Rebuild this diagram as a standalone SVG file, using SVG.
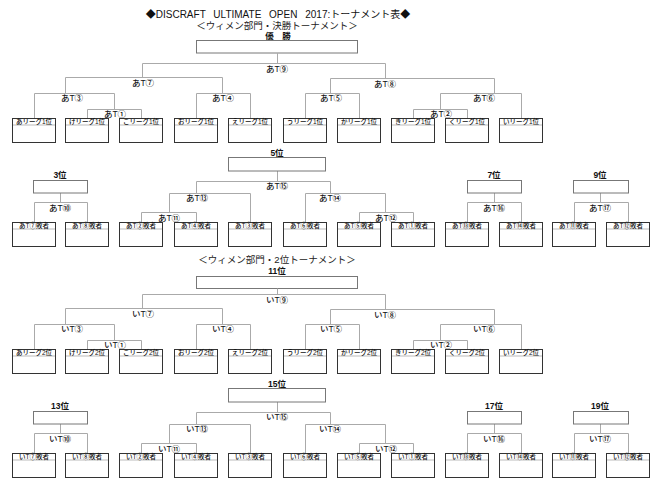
<svg xmlns="http://www.w3.org/2000/svg" xmlns:xlink="http://www.w3.org/1999/xlink" width="660" height="490" viewBox="0 0 660 490">
<style>
text{font-family:"Liberation Sans","Noto Sans CJK JP",sans-serif;fill:#111;text-anchor:middle}
.ti{font-size:10px}
.st{font-size:9.5px;fill:#222}
.pl{font-size:8.5px;font-weight:bold}
.mt{font-size:8.5px;font-weight:500}
.lf{font-size:6.5px;font-weight:500}
.cn{fill:none;stroke:#aaa;stroke-width:1}
.lb{fill:#fff;stroke:#333;stroke-width:1}
.lh{stroke:#bbb;stroke-width:1}
.pb{fill:#fff;stroke:#777;stroke-width:1}
</style>
<defs>
<g id="leaf"><rect x="0.5" y="0.5" width="43" height="24" class="lb"/><line x1="1" y1="7" x2="43" y2="7" class="lh"/></g>
</defs>
<rect width="660" height="490" fill="#fff"/>

<!-- Section 1 headings -->
<text class="ti" x="278" y="18" word-spacing="5">◆DISCRAFT ULTIMATE OPEN 2017:トーナメント表◆</text>
<text class="st" x="277" y="28.5">＜ウィメン部門・決勝トーナメント＞</text>
<g id="s1-champion"><text class="pl" x="278" y="38.5">優　勝</text><rect x="196.5" y="40.5" width="161" height="12.5" class="pb"/></g>

<!-- Section 2 headings -->
<text class="st" x="277" y="263">＜ウィメン部門・2位トーナメント＞</text>
<g id="s2-11th"><text class="pl" x="277" y="273.5">11位</text><rect x="196.5" y="276.5" width="161" height="12" class="pb"/></g>

<!-- Section 1 -->
<g id="section1">
<g id="s1-connectors">
<path class="cn" d="M277.5 53V63.5M142.5 77V63.5H385.5V78M65.5 93V77.5H222.5V93M34.5 118V93.5H114.5V109M87.5 118V109.5H141.5V118M196.5 118V93.5H250.5V118M330.5 93V78.5H494.5V93M305.5 118V93.5H359.5V118M440.5 109V93.5H521.5V118M413.5 118V109.5H467.5V118"/>
<path class="cn" d="M277.5 171V181.5M196.5 193V181.5H330.5V193M169.5 212V193.5H250.5V222M141.5 222V212.5H196.5V222M305.5 222V193.5H385.5V212M359.5 222V212.5H413.5V222M60.5 193V202.5M34.5 222V202.5H87.5V222M494.5 193V202.5M467.5 222V202.5H521.5V222M600.5 193V202.5M574.5 222V202.5H628.5V222"/>
</g>
<g id="s1-m9"><text class="mt" x="277" y="71.5">あT⑨</text></g>
<g id="s1-m7"><text class="mt" x="143" y="86">あT⑦</text></g>
<g id="s1-m8"><text class="mt" x="385" y="86.5">あT⑧</text></g>
<g id="s1-m3"><text class="mt" x="72" y="100.5">あT③</text></g>
<g id="s1-m4"><text class="mt" x="223" y="100.5">あT④</text></g>
<g id="s1-m5"><text class="mt" x="331" y="100.5">あT⑤</text></g>
<g id="s1-m6"><text class="mt" x="484" y="101">あT⑥</text></g>
<g id="s1-m1"><text class="mt" x="115" y="116.5">あT①</text></g>
<g id="s1-m2"><text class="mt" x="441" y="116.5">あT②</text></g>
<g id="s1-t1"><use xlink:href="#leaf" x="12" y="118"/><text class="lf" x="34" y="124.3">あリーグ1位</text></g>
<g id="s1-t2"><use xlink:href="#leaf" x="65" y="118"/><text class="lf" x="87" y="124.3">けリーグ1位</text></g>
<g id="s1-t3"><use xlink:href="#leaf" x="119" y="118"/><text class="lf" x="141" y="124.3">こリーグ1位</text></g>
<g id="s1-t4"><use xlink:href="#leaf" x="174" y="118"/><text class="lf" x="196" y="124.3">おリーグ1位</text></g>
<g id="s1-t5"><use xlink:href="#leaf" x="228" y="118"/><text class="lf" x="250" y="124.3">えリーグ1位</text></g>
<g id="s1-t6"><use xlink:href="#leaf" x="283" y="118"/><text class="lf" x="305" y="124.3">うリーグ1位</text></g>
<g id="s1-t7"><use xlink:href="#leaf" x="337" y="118"/><text class="lf" x="359" y="124.3">かリーグ1位</text></g>
<g id="s1-t8"><use xlink:href="#leaf" x="391" y="118"/><text class="lf" x="413" y="124.3">きリーグ1位</text></g>
<g id="s1-t9"><use xlink:href="#leaf" x="445" y="118"/><text class="lf" x="467" y="124.3">くリーグ1位</text></g>
<g id="s1-t10"><use xlink:href="#leaf" x="499" y="118"/><text class="lf" x="521" y="124.3">いリーグ1位</text></g>

<g id="s1-5th"><text class="pl" x="277" y="156">5位</text><rect x="228.5" y="157.5" width="97" height="13.5" class="pb"/></g>
<g id="s1-3rd"><text class="pl" x="60" y="178">3位</text><rect x="33.5" y="180.5" width="54" height="12.5" class="pb"/></g>
<g id="s1-7th"><text class="pl" x="494" y="178">7位</text><rect x="467.5" y="180.5" width="54" height="12.5" class="pb"/></g>
<g id="s1-9th"><text class="pl" x="600" y="178">9位</text><rect x="573.5" y="180.5" width="55" height="12.5" class="pb"/></g>
<g id="s1-m15"><text class="mt" x="277" y="189">あT⑮</text></g>
<g id="s1-m13"><text class="mt" x="197" y="201">あT⑬</text></g>
<g id="s1-m14"><text class="mt" x="330" y="201">あT⑭</text></g>
<g id="s1-m11"><text class="mt" x="169" y="220.5">あT⑪</text></g>
<g id="s1-m12"><text class="mt" x="386" y="220.5">あT⑫</text></g>
<g id="s1-m10"><text class="mt" x="60" y="210.5">あT⑩</text></g>
<g id="s1-m16"><text class="mt" x="494" y="210.5">あT⑯</text></g>
<g id="s1-m17"><text class="mt" x="600" y="210.5">あT⑰</text></g>
<g id="s1-l1"><use xlink:href="#leaf" x="12" y="222"/><text class="lf" x="34" y="228.3">あT⑦敗者</text></g>
<g id="s1-l2"><use xlink:href="#leaf" x="65" y="222"/><text class="lf" x="87" y="228.3">あT⑧敗者</text></g>
<g id="s1-l3"><use xlink:href="#leaf" x="119" y="222"/><text class="lf" x="141" y="228.3">あT②敗者</text></g>
<g id="s1-l4"><use xlink:href="#leaf" x="174" y="222"/><text class="lf" x="196" y="228.3">あT④敗者</text></g>
<g id="s1-l5"><use xlink:href="#leaf" x="228" y="222"/><text class="lf" x="250" y="228.3">あT③敗者</text></g>
<g id="s1-l6"><use xlink:href="#leaf" x="283" y="222"/><text class="lf" x="305" y="228.3">あT⑥敗者</text></g>
<g id="s1-l7"><use xlink:href="#leaf" x="337" y="222"/><text class="lf" x="359" y="228.3">あT⑤敗者</text></g>
<g id="s1-l8"><use xlink:href="#leaf" x="391" y="222"/><text class="lf" x="413" y="228.3">あT①敗者</text></g>
<g id="s1-l9"><use xlink:href="#leaf" x="445" y="222"/><text class="lf" x="467" y="228.3">あT⑬敗者</text></g>
<g id="s1-l10"><use xlink:href="#leaf" x="499" y="222"/><text class="lf" x="521" y="228.3">あT⑭敗者</text></g>
<g id="s1-l11"><use xlink:href="#leaf" x="552" y="222"/><text class="lf" x="574" y="228.3">あT⑪敗者</text></g>
<g id="s1-l12"><use xlink:href="#leaf" x="606" y="222"/><text class="lf" x="628" y="228.3">あT⑫敗者</text></g>
</g>

<!-- Section 2 -->
<g id="section2" transform="translate(0,231)">
<g id="s2-connectors">
<path class="cn" d="M277.5 57.5V63.5M142.5 77V63.5H385.5V78M65.5 93V77.5H222.5V93M34.5 118V93.5H114.5V109M87.5 118V109.5H141.5V118M196.5 118V93.5H250.5V118M330.5 93V78.5H494.5V93M305.5 118V93.5H359.5V118M440.5 109V93.5H521.5V118M413.5 118V109.5H467.5V118"/>
<path class="cn" d="M277.5 171V181.5M196.5 193V181.5H330.5V193M169.5 212V193.5H250.5V222M141.5 222V212.5H196.5V222M305.5 222V193.5H385.5V212M359.5 222V212.5H413.5V222M60.5 193V202.5M34.5 222V202.5H87.5V222M494.5 193V202.5M467.5 222V202.5H521.5V222M600.5 193V202.5M574.5 222V202.5H628.5V222"/>
</g>
<g id="s2-m9"><text class="mt" x="277" y="71.5">いT⑨</text></g>
<g id="s2-m7"><text class="mt" x="143" y="86">いT⑦</text></g>
<g id="s2-m8"><text class="mt" x="385" y="86.5">いT⑧</text></g>
<g id="s2-m3"><text class="mt" x="72" y="100.5">いT③</text></g>
<g id="s2-m4"><text class="mt" x="223" y="100.5">いT④</text></g>
<g id="s2-m5"><text class="mt" x="331" y="100.5">いT⑤</text></g>
<g id="s2-m6"><text class="mt" x="484" y="101">いT⑥</text></g>
<g id="s2-m1"><text class="mt" x="115" y="116.5">いT①</text></g>
<g id="s2-m2"><text class="mt" x="441" y="116.5">いT②</text></g>
<g id="s2-t1"><use xlink:href="#leaf" x="12" y="118"/><text class="lf" x="34" y="124.3">あリーグ2位</text></g>
<g id="s2-t2"><use xlink:href="#leaf" x="65" y="118"/><text class="lf" x="87" y="124.3">けリーグ2位</text></g>
<g id="s2-t3"><use xlink:href="#leaf" x="119" y="118"/><text class="lf" x="141" y="124.3">こリーグ2位</text></g>
<g id="s2-t4"><use xlink:href="#leaf" x="174" y="118"/><text class="lf" x="196" y="124.3">おリーグ2位</text></g>
<g id="s2-t5"><use xlink:href="#leaf" x="228" y="118"/><text class="lf" x="250" y="124.3">えリーグ2位</text></g>
<g id="s2-t6"><use xlink:href="#leaf" x="283" y="118"/><text class="lf" x="305" y="124.3">うリーグ2位</text></g>
<g id="s2-t7"><use xlink:href="#leaf" x="337" y="118"/><text class="lf" x="359" y="124.3">かリーグ2位</text></g>
<g id="s2-t8"><use xlink:href="#leaf" x="391" y="118"/><text class="lf" x="413" y="124.3">きリーグ2位</text></g>
<g id="s2-t9"><use xlink:href="#leaf" x="445" y="118"/><text class="lf" x="467" y="124.3">くリーグ2位</text></g>
<g id="s2-t10"><use xlink:href="#leaf" x="499" y="118"/><text class="lf" x="521" y="124.3">いリーグ2位</text></g>

<g id="s2-15th"><text class="pl" x="277" y="156">15位</text><rect x="228.5" y="157.5" width="97" height="13.5" class="pb"/></g>
<g id="s2-13th"><text class="pl" x="60" y="178">13位</text><rect x="33.5" y="180.5" width="54" height="12.5" class="pb"/></g>
<g id="s2-17th"><text class="pl" x="494" y="178">17位</text><rect x="467.5" y="180.5" width="54" height="12.5" class="pb"/></g>
<g id="s2-19th"><text class="pl" x="600" y="178">19位</text><rect x="573.5" y="180.5" width="55" height="12.5" class="pb"/></g>
<g id="s2-m15"><text class="mt" x="277" y="189">いT⑮</text></g>
<g id="s2-m13"><text class="mt" x="197" y="201">いT⑬</text></g>
<g id="s2-m14"><text class="mt" x="330" y="201">いT⑭</text></g>
<g id="s2-m11"><text class="mt" x="169" y="220.5">いT⑪</text></g>
<g id="s2-m12"><text class="mt" x="386" y="220.5">いT⑫</text></g>
<g id="s2-m10"><text class="mt" x="60" y="210.5">いT⑩</text></g>
<g id="s2-m16"><text class="mt" x="494" y="210.5">いT⑯</text></g>
<g id="s2-m17"><text class="mt" x="600" y="210.5">いT⑰</text></g>
<g id="s2-l1"><use xlink:href="#leaf" x="12" y="222"/><text class="lf" x="34" y="228.3">いT⑦敗者</text></g>
<g id="s2-l2"><use xlink:href="#leaf" x="65" y="222"/><text class="lf" x="87" y="228.3">いT⑧敗者</text></g>
<g id="s2-l3"><use xlink:href="#leaf" x="119" y="222"/><text class="lf" x="141" y="228.3">いT②敗者</text></g>
<g id="s2-l4"><use xlink:href="#leaf" x="174" y="222"/><text class="lf" x="196" y="228.3">いT④敗者</text></g>
<g id="s2-l5"><use xlink:href="#leaf" x="228" y="222"/><text class="lf" x="250" y="228.3">いT③敗者</text></g>
<g id="s2-l6"><use xlink:href="#leaf" x="283" y="222"/><text class="lf" x="305" y="228.3">いT⑥敗者</text></g>
<g id="s2-l7"><use xlink:href="#leaf" x="337" y="222"/><text class="lf" x="359" y="228.3">いT⑤敗者</text></g>
<g id="s2-l8"><use xlink:href="#leaf" x="391" y="222"/><text class="lf" x="413" y="228.3">いT①敗者</text></g>
<g id="s2-l9"><use xlink:href="#leaf" x="445" y="222"/><text class="lf" x="467" y="228.3">いT⑬敗者</text></g>
<g id="s2-l10"><use xlink:href="#leaf" x="499" y="222"/><text class="lf" x="521" y="228.3">いT⑭敗者</text></g>
<g id="s2-l11"><use xlink:href="#leaf" x="552" y="222"/><text class="lf" x="574" y="228.3">いT⑪敗者</text></g>
<g id="s2-l12"><use xlink:href="#leaf" x="606" y="222"/><text class="lf" x="628" y="228.3">いT⑫敗者</text></g>
</g>
</svg>
